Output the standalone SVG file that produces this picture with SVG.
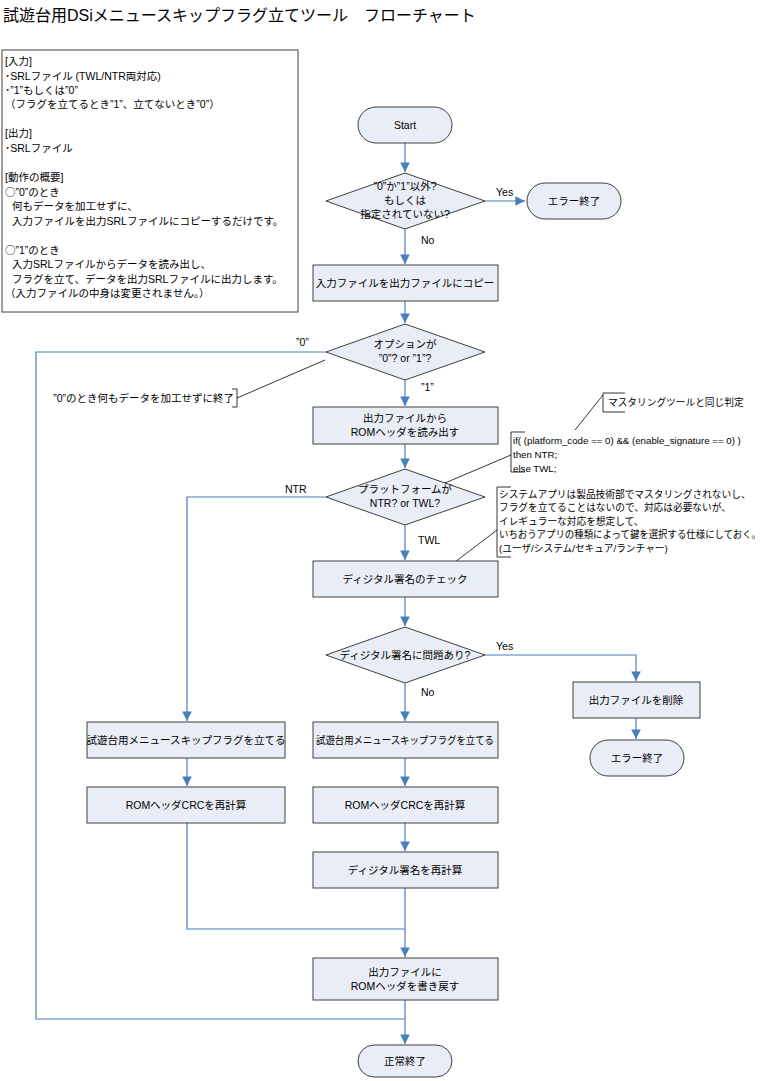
<svg xmlns="http://www.w3.org/2000/svg" width="766" height="1081" viewBox="0 0 766 1081">
<defs>
<style>
text{font-family:"Liberation Sans","Noto Sans CJK JP",sans-serif;font-size:10.5px;fill:#000}
.c{text-anchor:middle}
.s{font-size:9.7px}
.j{font-family:"Noto Sans CJK JP",sans-serif}
.n{fill:#e9edf6;stroke:#404040;stroke-width:1}
.l{fill:none;stroke:#4a7ebb;stroke-width:1.2}
.a{fill:none;stroke:#000;stroke-width:0.8}
</style>
<marker id="ar" viewBox="0 0 10 10" refX="10" refY="5" markerWidth="8" markerHeight="8" orient="auto"><path d="M0,0L10,5L0,10z" fill="#4a7ebb"/></marker>
</defs>
<rect width="766" height="1081" fill="#fff"/>
<text x="3" y="21" style="font-size:16px">試遊台用DSiメニュースキップフラグ立てツール　フローチャート</text>
<g id="info">
<rect x="2" y="50" width="296" height="262" fill="#fff" stroke="#404040"/>
<text x="5" y="65">[入力]</text>
<text x="5" y="80">･SRLファイル (TWL/NTR両対応)</text>
<text x="5" y="94">･”1”もしくは”0”</text>
<text x="5" y="108"> （フラグを立てるとき”1”、立てないとき”0”）</text>
<text x="5" y="137">[出力]</text>
<text x="5" y="152">･SRLファイル</text>
<text x="5" y="181">[動作の概要]</text>
<text x="5" y="196"><tspan class="j">○</tspan>”0”のとき</text>
<text x="12" y="210">何もデータを加工せずに、</text>
<text x="12" y="225">入力ファイルを出力SRLファイルにコピーするだけです。</text>
<text x="5" y="254"><tspan class="j">○</tspan>”1”のとき</text>
<text x="12" y="268">入力SRLファイルからデータを読み出し、</text>
<text x="12" y="283">フラグを立て、データを出力SRLファイルに出力します。</text>
<text x="5" y="297">（入力ファイルの中身は変更されません。）</text>
</g>
<g id="connectors">
<path class="l" d="M405,143V172" marker-end="url(#ar)"/>
<path class="l" d="M485,201H525" marker-end="url(#ar)"/>
<path class="l" d="M405,229V264" marker-end="url(#ar)"/>
<path class="l" d="M405,301V323" marker-end="url(#ar)"/>
<path class="l" d="M405,380V406" marker-end="url(#ar)"/>
<path class="l" d="M326,352H36V1019H405"/>
<path class="l" d="M405,444V468" marker-end="url(#ar)"/>
<path class="l" d="M326,497H187V721" marker-end="url(#ar)"/>
<path class="l" d="M405,525V560" marker-end="url(#ar)"/>
<path class="l" d="M405,597V626" marker-end="url(#ar)"/>
<path class="l" d="M485,655H636V681" marker-end="url(#ar)"/>
<path class="l" d="M636,718V739" marker-end="url(#ar)"/>
<path class="l" d="M405,683V721" marker-end="url(#ar)"/>
<path class="l" d="M187,758V786" marker-end="url(#ar)"/>
<path class="l" d="M405,758V786" marker-end="url(#ar)"/>
<path class="l" d="M405,823V851" marker-end="url(#ar)"/>
<path class="l" d="M187,823V929H405"/>
<path class="l" d="M405,888V957" marker-end="url(#ar)"/>
<path class="l" d="M405,1000V1044" marker-end="url(#ar)"/>
<text x="496" y="196">Yes</text>
<text x="421" y="244">No</text>
<text x="296" y="346">”0”</text>
<text x="421" y="391">”1”</text>
<text x="285" y="493">NTR</text>
<text x="418" y="544">TWL</text>
<text x="496" y="650">Yes</text>
<text x="421" y="696">No</text>
</g>
<g id="start"><rect class="n" x="358" y="107" width="94" height="36" rx="18"/><text class="c" x="405" y="129">Start</text></g>
<g id="d1"><path class="n" d="M405,173L485,201L405,229L326,201z"/><text class="c" x="405" y="190">”0”か”1”以外?</text><text class="c" x="405" y="204">もしくは</text><text class="c" x="405" y="218">指定されていない?</text></g>
<g id="err1"><rect class="n" x="527" y="183" width="94" height="36" rx="18"/><text class="c" x="574" y="205">エラー終了</text></g>
<g id="copy"><rect class="n" x="313" y="265" width="185" height="36"/><text class="c" x="405" y="287">入力ファイルを出力ファイルにコピー</text></g>
<g id="d2"><path class="n" d="M405,324L485,352L405,380L326,352z"/><text class="c" x="405" y="348">オプションが</text><text class="c" x="405" y="362">”0”? or ”1”?</text></g>
<g id="note0"><path class="a" d="M237,398L325,360M232,389H237V407H232"/><text x="234" y="402" style="text-anchor:end">”0”のとき何もデータを加工せずに終了</text></g>
<g id="read"><rect class="n" x="313" y="407" width="185" height="37"/><text class="c" x="405" y="422">出力ファイルから</text><text class="c" x="405" y="436">ROMヘッダを読み出す</text></g>
<g id="d3"><path class="n" d="M405,469L485,497L405,525L326,497z"/><text class="c" x="405" y="493">プラットフォームが</text><text class="c" x="405" y="507">NTR? or TWL?</text></g>
<g id="noteM"><path class="a" d="M575,430L603,395M625,393H603V412H625"/><text x="608" y="406" class="s">マスタリングツールと同じ判定</text></g>
<g id="noteCode"><path class="a" d="M445,483L511,455M525,432H511V472H525"/><text x="513" y="444" class="s">if( (platform_code == 0) &amp;&amp; (enable_signature == 0) )</text><text x="513" y="458" class="s">then NTR;</text><text x="513" y="472" class="s">else TWL;</text></g>
<g id="noteSys"><path class="a" d="M455,562L497,530M511,487H497V557H511"/><text x="499" y="498" class="s">システムアプリは製品技術部でマスタリングされないし、</text><text x="499" y="511" class="s">フラグを立てることはないので、対応は必要ないが、</text><text x="499" y="525" class="s">イレギュラーな対応を想定して、</text><text x="499" y="538" class="s" textLength="262" lengthAdjust="spacingAndGlyphs">いちおうアプリの種類によって鍵を選択する仕様にしておく。</text><text x="499" y="552" class="s">(ユーザ/システム/セキュア/ランチャー)</text></g>
<g id="check"><rect class="n" x="313" y="561" width="185" height="36"/><text class="c" x="405" y="583">ディジタル署名のチェック</text></g>
<g id="d4"><path class="n" d="M405,627L485,655L405,683L326,655z"/><text class="c" x="405" y="659">ディジタル署名に問題あり?</text></g>
<g id="del"><rect class="n" x="573" y="682" width="127" height="36"/><text class="c" x="636" y="704">出力ファイルを削除</text></g>
<g id="err2"><rect class="n" x="590" y="740" width="94" height="36" rx="18"/><text class="c" x="637" y="762">エラー終了</text></g>
<g id="flagL"><rect class="n" x="87" y="722" width="198" height="36"/><text class="c" x="186" y="744">試遊台用メニュースキップフラグを立てる</text></g>
<g id="flagC"><rect class="n" x="313" y="722" width="185" height="36"/><text class="c" x="405" y="744" textLength="178" lengthAdjust="spacingAndGlyphs">試遊台用メニュースキップフラグを立てる</text></g>
<g id="crcL"><rect class="n" x="87" y="787" width="198" height="36"/><text class="c" x="186" y="809">ROMヘッダCRCを再計算</text></g>
<g id="crcC"><rect class="n" x="313" y="787" width="185" height="36"/><text class="c" x="405" y="809">ROMヘッダCRCを再計算</text></g>
<g id="sig"><rect class="n" x="313" y="852" width="185" height="36"/><text class="c" x="405" y="874">ディジタル署名を再計算</text></g>
<g id="write"><rect class="n" x="313" y="958" width="185" height="42"/><text class="c" x="405" y="976">出力ファイルに</text><text class="c" x="405" y="990">ROMヘッダを書き戻す</text></g>
<g id="end"><rect class="n" x="358" y="1045" width="94" height="32" rx="16"/><text class="c" x="405" y="1065">正常終了</text></g>
</svg>
